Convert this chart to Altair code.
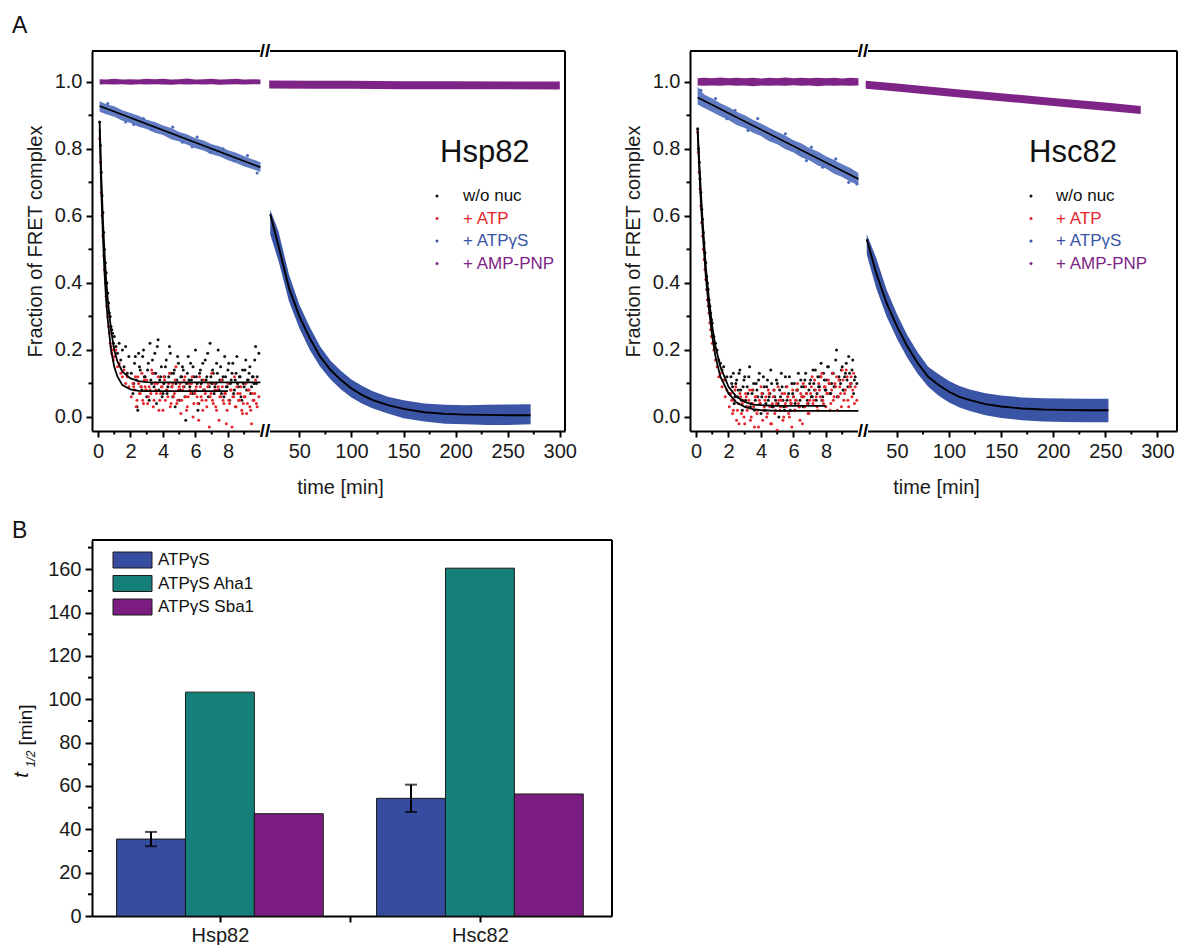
import altair as alt
import pandas as pd

FONT = "Liberation Sans"
COL_NONUC = "#111111"
COL_ATP = "#e4262c"
COL_ATPGS = "#3a55a6"
COL_ATPGS_LIGHT = "#4f6dba"
COL_AMP = "#7e2486"
LEGEND_LABELS = ["w/o nuc", "+ ATP", "+ ATP\u03b3S", "+ AMP-PNP"]
LEGEND_COLORS = [COL_NONUC, COL_ATP, COL_ATPGS, COL_AMP]

# ---------------- sampling times (min) ----------------
T_EARLY = [0.1, 0.15, 0.2, 0.25, 0.3, 0.35, 0.4, 0.45, 0.5, 0.55, 0.6, 0.65, 0.7, 0.75,
           0.8, 0.85, 0.9, 0.95, 1.0, 1.1, 1.2, 1.3, 1.4, 1.5, 1.6, 1.7, 1.8, 1.9]
T_LATE = [2.2, 2.3, 2.4, 2.5, 2.6, 2.7, 2.8, 2.9, 3.0, 3.1,
          3.2, 3.3, 3.4, 3.5, 3.6, 3.7, 3.8, 3.9, 4.0, 4.1,
          4.2, 4.3, 4.4, 4.5, 4.6, 4.7, 4.8, 4.9, 5.0, 5.1,
          5.2, 5.3, 5.4, 5.5, 5.6, 5.7, 5.8, 5.9, 6.0, 6.1,
          6.2, 6.3, 6.4, 6.5, 6.6, 6.7, 6.8, 6.9, 7.0, 7.1,
          7.2, 7.3, 7.4, 7.5, 7.6, 7.7, 7.8, 7.9, 8.0, 8.1,
          8.2, 8.3, 8.4, 8.5, 8.6, 8.7, 8.8, 8.9, 9.0, 9.1,
          9.2, 9.3, 9.4, 9.5, 9.6, 9.7, 9.8, 9.9]
T_LATE2 = [2.05, 2.15, 2.25, 2.35, 2.45, 2.55, 2.65, 2.75, 2.85, 2.95,
           3.05, 3.15, 3.25, 3.35, 3.45, 3.55, 3.65, 3.75, 3.85, 3.95,
           4.05, 4.15, 4.25, 4.35, 4.45, 4.55, 4.65, 4.75, 4.85, 4.95,
           5.05, 5.15, 5.25, 5.35, 5.45, 5.55, 5.65, 5.75, 5.85, 5.95,
           6.05, 6.15, 6.25, 6.35, 6.45, 6.55, 6.65, 6.75, 6.85, 6.95,
           7.05, 7.15, 7.25, 7.35, 7.45, 7.55, 7.65, 7.75, 7.85, 7.95,
           8.05, 8.15, 8.25, 8.35, 8.45, 8.55, 8.65, 8.75, 8.85, 8.95,
           9.05, 9.15, 9.25, 9.35, 9.45, 9.55, 9.65, 9.75]
BAND1_T = [0.1, 0.5, 1.0, 1.5, 2.0, 2.5, 3.0, 3.5, 4.0, 4.5, 5.0, 5.5, 6.0, 6.5, 7.0, 7.5,
           8.0, 8.5, 9.0, 9.5, 10.0]

# ---------------- Hsp82 ----------------
HSP_BLACK_EARLY = [0.88, 0.81, 0.73, 0.66, 0.61, 0.55, 0.50, 0.46, 0.43, 0.40, 0.37, 0.34, 0.31, 0.30,
                   0.27, 0.26, 0.25, 0.22, 0.24, 0.21, 0.19, 0.22, 0.17, 0.20, 0.15, 0.21, 0.13, 0.18]
HSP_BLACK_LATE = [0.10, 0.18, 0.03, 0.19, 0.14, 0.08, 0.20, 0.12, 0.06, 0.16,
                  0.22, 0.10, 0.13, 0.19, 0.04, 0.23, 0.11, 0.15, 0.07, 0.12,
                  0.17, 0.09, 0.21, 0.13, 0.06, 0.14, 0.10, 0.18, 0.05, 0.12,
                  0.15, 0.09, -0.01, 0.13, 0.11, 0.16, 0.07, 0.12, 0.20, 0.10,
                  0.04, 0.14, 0.11, 0.08, 0.17, 0.12, 0.06, 0.22, 0.10, 0.13,
                  0.09, 0.16, 0.20, 0.11, 0.07, 0.12, 0.18, 0.09, 0.14, 0.05,
                  0.11, 0.16, 0.08, 0.13, 0.10, 0.12, 0.06, 0.14, 0.09, 0.17,
                  0.11, 0.13, 0.07, 0.12, 0.10, 0.21, 0.12, 0.19]
HSP_BLACK_LATE2 = [0.13, 0.07, 0.16, 0.11, 0.02, 0.15, 0.09, 0.18, 0.12, 0.08,
                   0.14, 0.05, 0.11, 0.17, 0.09, 0.13, 0.21, 0.08, 0.12, 0.06,
                   0.10, 0.15, 0.07, 0.12, 0.19, 0.09, 0.13, 0.03, 0.11, 0.16,
                   0.08, 0.12, 0.14, 0.06, 0.10, 0.18, 0.09, 0.11, 0.15, 0.07,
                   0.12, 0.02, 0.13, 0.10, 0.16, 0.08, 0.11, 0.19, 0.09, 0.12,
                   0.14, 0.07, 0.10, 0.13, 0.08, 0.15, 0.11, 0.06, 0.12, 0.09,
                   0.16, 0.10, 0.13, 0.07, 0.11, 0.18, 0.09, 0.12, 0.05, 0.10,
                   0.14, 0.08, 0.11, 0.15, 0.09, 0.12, 0.17, 0.10]
HSP_RED_EARLY = [0.83, 0.76, 0.67, 0.60, 0.54, 0.48, 0.44, 0.40, 0.36, 0.33, 0.30, 0.27, 0.25, 0.22,
                 0.21, 0.19, 0.20, 0.17, 0.18, 0.20, 0.15, 0.16, 0.13, 0.12, 0.14, 0.10, 0.12, 0.09]
HSP_RED_LATE = [0.09, 0.12, 0.05, 0.10, 0.07, 0.13, 0.04, 0.09, 0.11, 0.06,
                0.08, 0.14, 0.03, 0.10, 0.07, 0.12, 0.05, 0.09, 0.02, 0.11,
                0.08, 0.06, 0.13, 0.04, 0.10, 0.07, 0.15, 0.05, 0.09, 0.01,
                0.08, 0.11, 0.06, 0.03, 0.10, 0.07, 0.12, 0.04, 0.08, 0.06,
                -0.01, 0.09, 0.05, 0.11, 0.07, 0.03, 0.10, 0.06, 0.13, 0.04,
                0.08, 0.02, 0.09, 0.06, 0.11, 0.05, 0.07, -0.02, 0.10, 0.04,
                0.08, 0.06, 0.12, 0.03, 0.07, 0.05, 0.09, 0.01, 0.06, 0.10,
                0.04, 0.08, 0.02, 0.07, 0.05, 0.11, 0.03, 0.06]
HSP_RED_LATE2 = [0.06, 0.10, 0.08, 0.03, 0.12, 0.07, 0.09, 0.05, 0.11, 0.08,
                 0.04, 0.09, 0.07, 0.13, 0.05, 0.08, 0.10, 0.02, 0.07, 0.09,
                 0.12, 0.05, 0.08, 0.10, 0.03, 0.09, 0.06, 0.11, 0.04, 0.08,
                 0.10, 0.05, 0.09, 0.12, 0.02, 0.06, 0.08, 0.10, 0.00, 0.07,
                 0.09, 0.04, 0.12, 0.06, 0.02, 0.08, 0.05, 0.09, -0.03, 0.07,
                 0.05, 0.10, 0.03, 0.08, -0.01, 0.06, 0.09, 0.04, 0.07, 0.02,
                 0.05, 0.08, -0.03, 0.06, 0.03, 0.09, 0.05, 0.07, 0.02, 0.04,
                 0.06, 0.01, 0.08, 0.03, -0.02, 0.05, 0.07, 0.04]
HSP_FIT1_T = [0.1, 0.2, 0.3, 0.4, 0.5, 0.6, 0.8, 1.0, 1.2, 1.5, 2.0, 2.5, 3.0, 4.0, 10.0]
HSP_FIT1_Y = [0.88, 0.72, 0.59, 0.49, 0.41, 0.35, 0.26, 0.20, 0.165, 0.135, 0.115, 0.107, 0.104, 0.103, 0.103]
HSP_FIT2_T = [0.1, 0.2, 0.3, 0.4, 0.5, 0.6, 0.8, 1.0, 1.2, 1.5, 2.0, 2.5, 3.0, 4.0, 8.0]
HSP_FIT2_Y = [0.86, 0.68, 0.54, 0.43, 0.35, 0.29, 0.20, 0.15, 0.12, 0.095, 0.082, 0.078, 0.077, 0.077, 0.077]
HSP_BLUE1_LO = [0.911, 0.903, 0.896, 0.884, 0.877, 0.866, 0.859, 0.848, 0.841, 0.829, 0.822, 0.812, 0.802,
                0.795, 0.784, 0.777, 0.766, 0.758, 0.747, 0.740, 0.731]
HSP_BLUE1_HI = [0.942, 0.933, 0.927, 0.915, 0.907, 0.899, 0.887, 0.880, 0.870, 0.862, 0.850, 0.843, 0.832,
                0.825, 0.814, 0.807, 0.796, 0.788, 0.778, 0.769, 0.760]
HSP_BLUE1_PT_T = [0.6, 1.7, 2.2, 2.8, 3.3, 4.6, 5.2, 5.8, 6.1, 6.9, 7.7, 8.4, 9.2, 9.8]
HSP_BLUE1_PT_Y = [0.935, 0.88, 0.873, 0.89, 0.857, 0.865, 0.82, 0.806, 0.835, 0.79, 0.80, 0.765, 0.78, 0.728]
HSP_BLUE1_FIT_T = [0.1, 10.0]
HSP_BLUE1_FIT_Y = [0.928, 0.745]
HSP_AMP1_LO = [0.992, 0.993, 0.992, 0.993, 0.991, 0.993, 0.992, 0.993, 0.992, 0.991, 0.993, 0.992, 0.993,
               0.992, 0.993, 0.991, 0.992, 0.993, 0.992, 0.993, 0.993]
HSP_AMP1_HI = [1.008, 1.007, 1.009, 1.007, 1.008, 1.007, 1.009, 1.008, 1.009, 1.007, 1.008, 1.010, 1.007,
               1.008, 1.009, 1.007, 1.008, 1.009, 1.007, 1.008, 1.007]
HSP_AMP2_T = [21, 60, 100, 150, 200, 250, 300]
HSP_AMP2_LO = [0.980, 0.979, 0.979, 0.978, 0.978, 0.978, 0.977]
HSP_AMP2_HI = [1.004, 1.003, 1.003, 1.002, 1.002, 1.001, 1.001]
HSP_BLUE2_T = [22, 30, 40, 50, 60, 70, 80, 90, 100, 110, 120, 135, 150, 170, 190, 210, 230, 250, 272]
HSP_BLUE2_FIT = [0.605, 0.51, 0.385, 0.30, 0.235, 0.18, 0.14, 0.11, 0.085, 0.066, 0.051, 0.035, 0.024,
                 0.014, 0.009, 0.007, 0.006, 0.005, 0.005]
HSP_BLUE2_LO = [0.545, 0.465, 0.345, 0.265, 0.20, 0.15, 0.112, 0.082, 0.058, 0.04, 0.026, 0.01, -0.004,
                -0.014, -0.02, -0.022, -0.024, -0.024, -0.022]
HSP_BLUE2_HI = [0.618, 0.553, 0.425, 0.335, 0.268, 0.21, 0.168, 0.137, 0.112, 0.093, 0.077, 0.06, 0.05,
                0.04, 0.036, 0.035, 0.036, 0.037, 0.038]

# ---------------- Hsc82 ----------------
HSC_BLACK_EARLY = [0.86, 0.80, 0.76, 0.71, 0.67, 0.62, 0.59, 0.55, 0.52, 0.49, 0.46, 0.42, 0.40, 0.38,
                   0.35, 0.33, 0.31, 0.29, 0.28, 0.24, 0.22, 0.20, 0.17, 0.16, 0.14, 0.15, 0.11, 0.12]
HSC_BLACK_LATE = [0.10, 0.13, 0.06, 0.11, 0.08, 0.14, 0.05, 0.09, 0.12, 0.03,
                  0.07, 0.15, 0.04, 0.08, 0.02, 0.10, 0.06, 0.13, 0.01, 0.07,
                  0.09, 0.04, 0.11, 0.06, 0.14, 0.03, 0.08, 0.05, 0.10, 0.00,
                  0.06, 0.09, 0.03, 0.12, 0.05, 0.07, 0.02, 0.10, 0.06, 0.04,
                  0.08, 0.13, 0.05, 0.09, 0.03, 0.11, 0.07, 0.04, 0.10, 0.06,
                  0.14, 0.08, 0.05, 0.12, 0.09, 0.16, 0.06, 0.11, 0.08, 0.15,
                  0.10, 0.07, 0.13, 0.09, 0.17, 0.06, 0.12, 0.10, 0.15, 0.08,
                  0.13, 0.11, 0.18, 0.09, 0.14, 0.07, 0.12, 0.10]
HSC_BLACK_LATE2 = [0.07, 0.12, 0.09, 0.04, 0.10, 0.06, 0.13, 0.08, 0.02, 0.11,
                   0.05, 0.09, 0.12, 0.03, 0.07, 0.10, 0.05, 0.08, 0.11, 0.04,
                   0.06, 0.12, 0.02, 0.09, 0.05, 0.07, 0.10, 0.03, 0.06, 0.11,
                   0.04, 0.08, 0.13, 0.05, 0.02, 0.09, 0.06, 0.12, 0.04, 0.07,
                   0.10, 0.05, 0.08, 0.03, 0.11, 0.06, 0.09, 0.13, 0.05, 0.08,
                   0.11, 0.06, 0.10, 0.14, 0.07, 0.09, 0.12, 0.05, 0.13, 0.08,
                   0.11, 0.15, 0.07, 0.10, 0.13, 0.09, 0.20, 0.06, 0.11, 0.14,
                   0.08, 0.12, 0.16, 0.09, 0.13, 0.10, 0.17, 0.11]
HSC_RED_EARLY = [0.85, 0.79, 0.73, 0.68, 0.63, 0.58, 0.54, 0.50, 0.47, 0.44, 0.41, 0.38, 0.35, 0.33,
                 0.31, 0.28, 0.26, 0.24, 0.22, 0.20, 0.17, 0.15, 0.12, 0.13, 0.09, 0.11, 0.06, 0.08]
HSC_RED_LATE = [0.05, 0.02, 0.08, -0.01, 0.04, 0.07, 0.01, 0.05, -0.02, 0.06,
                0.03, 0.08, 0.00, 0.04, -0.03, 0.06, 0.02, 0.05, 0.09, -0.01,
                0.03, 0.06, 0.01, 0.07, -0.02, 0.04, 0.08, 0.02, -0.04, 0.05,
                0.03, 0.07, 0.00, 0.04, 0.09, 0.01, 0.05, -0.03, 0.06, 0.02,
                0.08, 0.04, -0.01, 0.06, 0.10, 0.03, 0.07, 0.01, 0.05, 0.09,
                0.04, 0.11, 0.06, 0.02, 0.08, 0.12, 0.05, 0.09, 0.03, 0.07,
                0.10, 0.04, 0.13, 0.06, 0.09, 0.02, 0.11, 0.07, 0.14, 0.05,
                0.08, 0.12, 0.03, 0.10, 0.06, 0.13, 0.09, 0.05]
HSC_RED_LATE2 = [0.03, 0.07, 0.01, 0.05, 0.09, 0.02, -0.02, 0.06, 0.04, 0.00,
                 0.07, 0.02, 0.05, -0.01, 0.08, 0.03, 0.06, 0.01, -0.03, 0.04,
                 0.07, 0.02, 0.05, 0.00, 0.08, 0.03, -0.02, 0.06, 0.01, 0.04,
                 0.09, 0.02, 0.05, -0.01, 0.07, 0.03, 0.06, 0.00, 0.04, 0.08,
                 0.02, 0.05, 0.10, 0.03, 0.07, -0.02, 0.06, 0.09, 0.04, 0.01,
                 0.07, 0.12, 0.05, 0.08, 0.03, 0.10, 0.06, 0.13, 0.04, 0.09,
                 0.07, 0.11, 0.02, 0.08, 0.05, 0.10, 0.12, 0.06, 0.09, 0.03,
                 0.11, 0.07, 0.14, 0.05, 0.09, 0.12, 0.08, 0.04]
HSC_FIT1_T = [0.1, 0.2, 0.3, 0.4, 0.5, 0.6, 0.7, 0.8, 1.0, 1.2, 1.5, 2.0, 2.5, 3.0, 3.5, 4.0, 5.0, 8.0]
HSC_FIT1_Y = [0.86, 0.76, 0.67, 0.59, 0.52, 0.45, 0.40, 0.35, 0.27, 0.21, 0.15, 0.09, 0.06, 0.045,
              0.037, 0.035, 0.033, 0.033]
HSC_FIT2_T = [0.1, 0.2, 0.3, 0.4, 0.5, 0.6, 0.7, 0.8, 1.0, 1.2, 1.5, 2.0, 2.5, 3.0, 3.5, 4.0, 5.0, 10.0]
HSC_FIT2_Y = [0.85, 0.74, 0.64, 0.56, 0.49, 0.42, 0.37, 0.32, 0.24, 0.18, 0.12, 0.07, 0.043, 0.03,
              0.023, 0.02, 0.018, 0.018]
HSC_BLUE1_LO = [0.932, 0.922, 0.910, 0.897, 0.886, 0.871, 0.862, 0.848, 0.838, 0.823, 0.814, 0.799, 0.789,
                0.774, 0.765, 0.750, 0.741, 0.726, 0.716, 0.702, 0.692]
HSC_BLUE1_HI = [0.985, 0.962, 0.950, 0.936, 0.925, 0.911, 0.900, 0.887, 0.876, 0.863, 0.851, 0.840, 0.826,
                0.816, 0.802, 0.792, 0.778, 0.767, 0.754, 0.743, 0.728]
HSC_BLUE1_PT_T = [0.3, 1.2, 1.9, 2.4, 3.2, 3.8, 4.7, 5.5, 6.3, 6.8, 7.1, 7.8, 8.6, 9.4, 9.9]
HSC_BLUE1_PT_Y = [0.975, 0.95, 0.89, 0.915, 0.855, 0.89, 0.83, 0.845, 0.79, 0.765, 0.805, 0.745, 0.77,
                  0.70, 0.695]
HSC_BLUE1_FIT_T = [0.1, 10.0]
HSC_BLUE1_FIT_Y = [0.953, 0.710]
HSC_AMP1_LO = [0.989, 0.988, 0.989, 0.988, 0.990, 0.988, 0.989, 0.987, 0.989, 0.988, 0.989, 0.988, 0.990,
               0.988, 0.989, 0.987, 0.989, 0.988, 0.989, 0.988, 0.989]
HSC_AMP1_HI = [1.011, 1.012, 1.011, 1.013, 1.011, 1.012, 1.011, 1.012, 1.010, 1.012, 1.011, 1.013, 1.011,
               1.012, 1.011, 1.012, 1.011, 1.012, 1.010, 1.012, 1.011]
HSC_AMP2_T = [20, 50, 100, 150, 200, 250, 284]
HSC_AMP2_LO = [0.979, 0.971, 0.956, 0.942, 0.928, 0.914, 0.904]
HSC_AMP2_HI = [1.003, 0.995, 0.980, 0.966, 0.952, 0.938, 0.928]
HSC_BLUE2_T = [21, 30, 40, 50, 60, 70, 80, 90, 100, 110, 120, 135, 150, 170, 190, 210, 230, 253]
HSC_BLUE2_FIT = [0.53, 0.43, 0.34, 0.27, 0.21, 0.16, 0.12, 0.095, 0.075, 0.06, 0.05, 0.038, 0.031,
                 0.025, 0.022, 0.021, 0.02, 0.02]
HSC_BLUE2_LO = [0.485, 0.385, 0.30, 0.233, 0.176, 0.128, 0.09, 0.063, 0.043, 0.028, 0.018, 0.005,
                -0.003, -0.01, -0.014, -0.015, -0.016, -0.016]
HSC_BLUE2_HI = [0.545, 0.475, 0.38, 0.307, 0.244, 0.192, 0.15, 0.127, 0.107, 0.092, 0.082, 0.071,
                0.064, 0.058, 0.056, 0.055, 0.054, 0.054]

# ---------------- Panel B ----------------
BAR_GROUPS = ["Hsp82", "Hsc82"]
BAR_SERIES = ["ATP\u03b3S", "ATP\u03b3S Aha1", "ATP\u03b3S Sba1"]
BAR_COLORS = ["#364c9e", "#15807a", "#7b1d80"]
HSP_BARS = [35.5, 103.3, 47.2]
HSC_BARS = [54.3, 160.5, 56.3]
HSP_ERR = [3.3, None, None]
HSC_ERR = [6.3, None, None]

# ---------------- layout constants ----------------
H = 380
Y_DOM = [-0.042, 1.092]
SEG1_W = 173
SEG1_DOM = [-0.37, 10.28]
SEG2 = {"L": (300, [17.0, 305.0]), "R": (314, [17.4, 318.8])}
BW = 520
BH = 376
ONE = pd.DataFrame({"a": [0]})


def pts_df(*pairs):
    ts, ys = [], []
    for tl, yl in pairs:
        ts += list(tl)
        ys += list(yl)
    return pd.DataFrame({"t": ts, "y": ys})


def band_df(tl, lo, hi):
    return pd.DataFrame({"t": tl, "y": lo, "y2": hi})


Y_AXIS = alt.Axis(values=[0, 0.2, 0.4, 0.6, 0.8, 1.0], format=".1f", title="Fraction of FRET complex",
                  tickSize=6, tickWidth=2, domainWidth=2, labelPadding=4, titlePadding=9,
                  labelFontSize=20, titleFontSize=20, titleFontWeight="normal", grid=False)
Y_ENC = alt.Y("y:Q", scale=alt.Scale(domain=Y_DOM, nice=False, zero=False), axis=Y_AXIS)


def panel(side, d, name, lab_x, dot_x, txt_x, title_x, panel_letter):
    w2, dom2 = SEG2[side]
    W = SEG1_W + w2
    ax1 = alt.Axis(values=[0, 2, 4, 6, 8], format="d", title=None, orient="bottom", tickSize=6,
                   tickWidth=2, domainWidth=2, labelPadding=4, labelFontSize=20, grid=False)
    ax2 = alt.Axis(values=[50, 100, 150, 200, 250, 300], format="d", title="time [min]", orient="bottom",
                   tickSize=6, tickWidth=2, domainWidth=2, labelPadding=4, labelFontSize=20,
                   titleFontSize=20, titleFontWeight="normal", titleX=title_x, titleY=56,
                   titleAlign="center", titleBaseline="middle", grid=False)
    X1 = alt.X("t:Q", scale=alt.Scale(domain=SEG1_DOM, range=[0, SEG1_W], nice=False, zero=False), axis=ax1)
    X2 = alt.X("t:Q", scale=alt.Scale(domain=dom2, range=[SEG1_W, W], nice=False, zero=False), axis=ax2)

    def band(df, color, X, op=1.0):
        return alt.Chart(df).mark_area(color=color, opacity=op).encode(x=X, y=Y_ENC, y2="y2:Q")

    def dots(df, color, X, size=9):
        return alt.Chart(df).mark_circle(size=size, opacity=1, color=color).encode(x=X, y=Y_ENC)

    def fitline(tl, yl, X, w=1.8):
        return alt.Chart(pd.DataFrame({"t": tl, "y": yl})).mark_line(color="black", strokeWidth=w).encode(
            x=X, y=Y_ENC)

    def minor_x(vals, X):
        return alt.Chart(pd.DataFrame({"t": vals})).mark_rule(color="black", strokeWidth=2).encode(
            x=X, y=alt.value(H), y2=alt.value(H + 3.5))

    s1 = [
        band(band_df(BAND1_T, d["amp1_lo"], d["amp1_hi"]), COL_AMP, X1),
        band(band_df(BAND1_T, d["blue1_lo"], d["blue1_hi"]), COL_ATPGS_LIGHT, X1, 0.9),
        dots(pts_df((d["blue1_pt_t"], d["blue1_pt_y"])), COL_ATPGS_LIGHT, X1, 10),
        fitline(d["blue1_fit_t"], d["blue1_fit_y"], X1, 1.6),
        dots(pts_df((T_EARLY, d["black_e"]), (T_LATE, d["black_l"]), (T_LATE2, d["black_l2"])), COL_NONUC, X1),
        dots(pts_df((T_EARLY, d["red_e"]), (T_LATE, d["red_l"]), (T_LATE2, d["red_l2"])), COL_ATP, X1),
        fitline(d["fit1_t"], d["fit1_y"], X1),
        fitline(d["fit2_t"], d["fit2_y"], X1),
        alt.Chart(pd.DataFrame({"y": [0.1, 0.3, 0.5, 0.7, 0.9]})).mark_rule(color="black", strokeWidth=2).encode(
            y=Y_ENC, x=alt.value(-3.5), x2=alt.value(0)),
        minor_x([1, 3, 5, 7, 9], X1),
    ]
    s2 = [
        band(band_df(d["amp2_t"], d["amp2_lo"], d["amp2_hi"]), COL_AMP, X2),
        band(band_df(d["blue2_t"], d["blue2_lo"], d["blue2_hi"]), COL_ATPGS, X2),
        fitline(d["blue2_t"], d["blue2_fit"], X2, 1.9),
        minor_x([75, 125, 175, 225, 275], X2),
        alt.Chart(ONE).mark_rule(color="black", strokeWidth=2).encode(x=alt.value(0), x2=alt.value(W), y=alt.value(0)),
        alt.Chart(ONE).mark_rule(color="black", strokeWidth=2).encode(x=alt.value(W), y=alt.value(0), y2=alt.value(H)),
        alt.Chart(ONE).mark_rect(color="white").encode(x=alt.value(SEG1_W - 5), x2=alt.value(SEG1_W + 5),
                                                       y=alt.value(-3), y2=alt.value(3)),
        alt.Chart(ONE).mark_rect(color="white").encode(x=alt.value(SEG1_W - 5), x2=alt.value(SEG1_W + 5),
                                                       y=alt.value(H - 3), y2=alt.value(H + 3)),
        alt.Chart(ONE).mark_text(text="//", fontSize=19, fontWeight="bold", color="black").encode(
            x=alt.value(SEG1_W), y=alt.value(0)),
        alt.Chart(ONE).mark_text(text="//", fontSize=19, fontWeight="bold", color="black").encode(
            x=alt.value(SEG1_W), y=alt.value(H)),
        alt.Chart(ONE).mark_text(text=name, fontSize=31, align="left", baseline="alphabetic",
                                 color="#111").encode(x=alt.value(lab_x), y=alt.value(111)),
    ]
    for i, (lab, col) in enumerate(zip(LEGEND_LABELS, LEGEND_COLORS)):
        yy = 145 + 22.5 * i
        s2.append(alt.Chart(ONE).mark_circle(size=9, color=col, opacity=1).encode(
            x=alt.value(dot_x), y=alt.value(yy)))
        s2.append(alt.Chart(ONE).mark_text(text=lab, fontSize=17, align="left", baseline="middle",
                                           color=col).encode(x=alt.value(txt_x), y=alt.value(yy)))
    if panel_letter:
        s2.append(alt.Chart(ONE).mark_text(text=panel_letter, fontSize=23, align="left", baseline="top",
                                           color="#111").encode(x=alt.value(-80), y=alt.value(-36)))
    return alt.layer(alt.layer(*s1), alt.layer(*s2)).resolve_scale(x="independent").resolve_axis(
        x="independent").properties(width=W, height=H)


def pack(p):
    keys = ["black_e", "black_l", "black_l2", "red_e", "red_l", "red_l2", "fit1_t", "fit1_y", "fit2_t",
            "fit2_y", "blue1_lo", "blue1_hi", "blue1_pt_t", "blue1_pt_y", "blue1_fit_t", "blue1_fit_y",
            "amp1_lo", "amp1_hi", "amp2_t", "amp2_lo", "amp2_hi", "blue2_t", "blue2_fit", "blue2_lo",
            "blue2_hi"]
    return {k: v for k, v in zip(keys, p)}


HSP = pack([HSP_BLACK_EARLY, HSP_BLACK_LATE, HSP_BLACK_LATE2, HSP_RED_EARLY, HSP_RED_LATE, HSP_RED_LATE2,
            HSP_FIT1_T, HSP_FIT1_Y, HSP_FIT2_T, HSP_FIT2_Y, HSP_BLUE1_LO, HSP_BLUE1_HI, HSP_BLUE1_PT_T,
            HSP_BLUE1_PT_Y, HSP_BLUE1_FIT_T, HSP_BLUE1_FIT_Y, HSP_AMP1_LO, HSP_AMP1_HI, HSP_AMP2_T,
            HSP_AMP2_LO, HSP_AMP2_HI, HSP_BLUE2_T, HSP_BLUE2_FIT, HSP_BLUE2_LO, HSP_BLUE2_HI])
HSC = pack([HSC_BLACK_EARLY, HSC_BLACK_LATE, HSC_BLACK_LATE2, HSC_RED_EARLY, HSC_RED_LATE, HSC_RED_LATE2,
            HSC_FIT1_T, HSC_FIT1_Y, HSC_FIT2_T, HSC_FIT2_Y, HSC_BLUE1_LO, HSC_BLUE1_HI, HSC_BLUE1_PT_T,
            HSC_BLUE1_PT_Y, HSC_BLUE1_FIT_T, HSC_BLUE1_FIT_Y, HSC_AMP1_LO, HSC_AMP1_HI, HSC_AMP2_T,
            HSC_AMP2_LO, HSC_AMP2_HI, HSC_BLUE2_T, HSC_BLUE2_FIT, HSC_BLUE2_LO, HSC_BLUE2_HI])

panel_L = panel("L", HSP, "Hsp82", 348, 345, 371, 248, "A")
panel_R = panel("R", HSC, "Hsc82", 339, 341, 366, 246, None)

# ---------------- Panel B ----------------
B_YDOM = [0, 173.5]
OFFS = [-0.265, 0.0, 0.265]
HALF = 0.1325
rows = []
err_rows = []
for gi, (g, vals, errs) in enumerate(zip(BAR_GROUPS, [HSP_BARS, HSC_BARS], [HSP_ERR, HSC_ERR])):
    for si, (s, v, e) in enumerate(zip(BAR_SERIES, vals, errs)):
        xc = gi + 1 + OFFS[si]
        rows.append({"group": g, "series": s, "y": v, "y0": 0.0, "x0": xc - HALF, "x1": xc + HALF})
        if e is not None:
            err_rows.append({"xc": xc, "lo": v - e, "hi": v + e})
bars_df = pd.DataFrame(rows)
err_df = pd.DataFrame(err_rows)

bx_axis = alt.Axis(values=[1, 1.5, 2], labelExpr="datum.value == 1 ? 'Hsp82' : (datum.value == 2 ? 'Hsc82' : '')",
                   title=None, tickSize=6, tickWidth=2, domainWidth=2, labelFontSize=20, labelPadding=3,
                   grid=False)
by_axis = alt.Axis(values=[0, 20, 40, 60, 80, 100, 120, 140, 160], format="d", title=None, tickSize=7,
                   tickWidth=2, domainWidth=2, labelFontSize=20, labelPadding=4, grid=False)
BX = alt.Scale(domain=[0.508, 0.508 + BW / 260.0], nice=False, zero=False)
BY = alt.Scale(domain=B_YDOM, nice=False, zero=False)

bars = alt.Chart(bars_df).mark_rect(stroke="#1a1a1a", strokeWidth=1).encode(
    x=alt.X("x0:Q", scale=BX, axis=bx_axis), x2="x1:Q",
    y=alt.Y("y:Q", scale=BY, axis=by_axis), y2="y0:Q",
    color=alt.Color("series:N", scale=alt.Scale(domain=BAR_SERIES, range=BAR_COLORS), legend=None))
err_rule = alt.Chart(err_df).mark_rule(color="black", strokeWidth=2).encode(
    x=alt.X("xc:Q", scale=BX, axis=bx_axis), y=alt.Y("lo:Q", scale=BY, axis=by_axis), y2="hi:Q")
err_cap_lo = alt.Chart(err_df).mark_tick(color="black", thickness=2, size=12, orient="horizontal").encode(
    x=alt.X("xc:Q", scale=BX, axis=bx_axis), y=alt.Y("lo:Q", scale=BY, axis=by_axis))
err_cap_hi = alt.Chart(err_df).mark_tick(color="black", thickness=2, size=12, orient="horizontal").encode(
    x=alt.X("xc:Q", scale=BX, axis=bx_axis), y=alt.Y("hi:Q", scale=BY, axis=by_axis))
b_minor_y = alt.Chart(pd.DataFrame({"y": [10, 30, 50, 70, 90, 110, 130, 150, 170]})).mark_rule(
    color="black", strokeWidth=2).encode(y=alt.Y("y:Q", scale=BY, axis=by_axis), x=alt.value(-4), x2=alt.value(0))
b_frame = [
    alt.Chart(ONE).mark_rule(color="black", strokeWidth=2).encode(x=alt.value(0), x2=alt.value(BW), y=alt.value(0)),
    alt.Chart(ONE).mark_rule(color="black", strokeWidth=2).encode(x=alt.value(BW), y=alt.value(0), y2=alt.value(BH)),
]
b_text = [
    alt.Chart(ONE).mark_text(text="B", fontSize=23, align="left", baseline="top", color="#111").encode(
        x=alt.value(-80), y=alt.value(-20)),
    alt.Chart(ONE).mark_text(text="t", fontSize=20, fontStyle="italic", angle=270, align="center",
                             baseline="middle", color="#111").encode(x=alt.value(-70), y=alt.value(235)),
    alt.Chart(ONE).mark_text(text="1/2", fontSize=12, fontStyle="italic", angle=270, align="center",
                             baseline="middle", color="#111").encode(x=alt.value(-61), y=alt.value(219)),
    alt.Chart(ONE).mark_text(text="[min]", fontSize=19, angle=270, align="center",
                             baseline="middle", color="#111").encode(x=alt.value(-66), y=alt.value(185)),
]
b_leg = []
for i, (s, c) in enumerate(zip(BAR_SERIES, BAR_COLORS)):
    top = 12 + 23.5 * i
    b_leg.append(alt.Chart(ONE).mark_rect(color=c, stroke="#1a1a1a", strokeWidth=1).encode(
        x=alt.value(21), x2=alt.value(60), y=alt.value(top), y2=alt.value(top + 16)))
    b_leg.append(alt.Chart(ONE).mark_text(text=s, fontSize=17, align="left", baseline="middle",
                                          color="#111").encode(x=alt.value(66), y=alt.value(top + 8)))

panel_B = alt.layer(bars, err_rule, err_cap_lo, err_cap_hi, b_minor_y, *b_frame, *b_text, *b_leg).properties(
    width=BW, height=BH)

COL_GAP = 598 - max(SEG1_W + SEG2["L"][0], BW)
chart = alt.concat(panel_L, panel_R, panel_B, columns=2, spacing={"row": 109, "column": COL_GAP},
                   bounds="flush", align="none").properties(
    padding={"left": 12, "top": 15, "right": 0, "bottom": 0}
).configure(font=FONT).configure_view(stroke=None).configure_axis(
    domainColor="black", tickColor="black", labelColor="#1a1a1a", titleColor="#1a1a1a",
    labelFont=FONT, titleFont=FONT
)

chart.save("out.html", embed_options={"renderer": "svg", "actions": False})
